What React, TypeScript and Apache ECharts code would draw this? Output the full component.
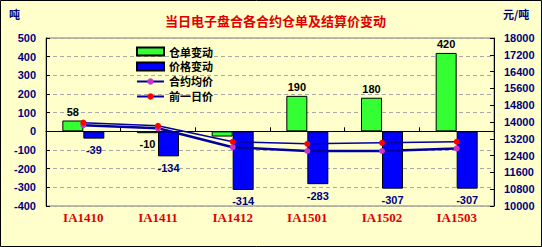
import React, { useEffect, useRef } from "react";
import * as echarts from "echarts";

const categories = ["IA1410", "IA1411", "IA1412", "IA1501", "IA1502", "IA1503"];
const warrantChange = [58, -10, -28, 190, 180, 420];
const priceChange = [-39, -134, -314, -283, -307, -307];
const avgPrice = [13850, 13700, 12800, 12620, 12620, 12740];
const prevPrice = [13970, 13820, 13060, 12960, 13010, 13060];
const hiddenLabelIndex = [2];

const titleText = "当日电子盘合各合约仓单及结算价变动";
const leftUnit = "吨";
const rightUnit = "元/吨";

const NUM_FONT = "'Liberation Sans', Arial, sans-serif";
const CJK_FONT = "'Noto Sans CJK SC', sans-serif";
const NAVY = "#000080";

export default function App() {
  const ref = useRef<HTMLDivElement>(null);
  useEffect(() => {
    if (!ref.current) return;
    const chart = echarts.init(ref.current, undefined, { renderer: "svg" });
    chart.setOption({
      animation: false,
      backgroundColor: "#FFFFCC",
      title: {
        text: titleText,
        left: 160,
        top: 9,
        textStyle: { color: "#E00000", fontSize: 13, fontWeight: "bold", fontFamily: CJK_FONT },
      },
      graphic: [
        { type: "rect", shape: { x: 0.5, y: 0.5, width: 541, height: 246 }, style: { fill: "none", stroke: "#000", lineWidth: 1 } },
        { type: "text", left: 9, top: 8, style: { text: leftUnit, fill: NAVY, font: `bold 11px ${CJK_FONT}` } },
        { type: "text", left: 503, top: 8, style: { text: rightUnit, fill: NAVY, font: `bold 11px ${CJK_FONT}` } },
      ],
      legend: {
        orient: "vertical",
        left: 131,
        top: 41,
        itemGap: 4,
        itemWidth: 27,
        itemHeight: 8,
        textStyle: { color: "#000", fontSize: 11, fontWeight: "bold", fontFamily: CJK_FONT },
        data: [
          { name: "仓单变动", icon: "rect" },
          { name: "价格变动", icon: "rect" },
          { name: "合约均价" },
          { name: "前一日价" },
        ],
      },
      grid: {
        left: 46,
        right: 48,
        top: 38,
        bottom: 41,
        show: true,
        borderColor: "#7f7f60",
        borderWidth: 1,
        backgroundColor: "transparent",
      },
      xAxis: [
        {
          type: "category",
          data: categories,
          axisLine: { onZero: true, lineStyle: { color: "#000", width: 1 } },
          axisTick: { show: true, inside: true, length: 4, lineStyle: { color: "#000" } },
          axisLabel: { show: false },
        },
        {
          type: "category",
          data: categories,
          position: "bottom",
          axisLine: { show: false, onZero: false },
          axisTick: { show: false },
          axisLabel: {
            color: "#E00000",
            fontSize: 13,
            fontWeight: "bold",
            fontFamily: "'Liberation Serif', 'Times New Roman', serif",
            margin: 5,
          },
        },
      ],
      yAxis: [
        {
          type: "value",
          min: -400,
          max: 500,
          interval: 100,
          axisLine: { show: true, lineStyle: { color: "#000" } },
          axisTick: { show: true, inside: true, length: 4, lineStyle: { color: "#000" } },
          axisLabel: { color: NAVY, fontSize: 11, fontWeight: "bold", fontFamily: NUM_FONT, margin: 10, formatter: (v: number) => String(v) },
          splitLine: { show: true, lineStyle: { color: "#A8A8A8", type: [4, 3], width: 1 } },
        },
        {
          type: "value",
          min: 10000,
          max: 18000,
          interval: 800,
          position: "right",
          axisLine: { show: true, lineStyle: { color: "#000" } },
          axisTick: { show: true, inside: true, length: 4, lineStyle: { color: "#000" } },
          axisLabel: { color: NAVY, fontSize: 11, fontWeight: "bold", fontFamily: NUM_FONT, margin: 10, formatter: (v: number) => String(v) },
          splitLine: { show: false },
        },
      ],
      series: [
        {
          name: "仓单变动",
          type: "bar",
          data: warrantChange.map((v, i) =>
            hiddenLabelIndex.includes(i)
              ? { value: v, label: { show: false } }
              : v < 0
              ? { value: v, label: { position: "bottom", distance: 5 } }
              : v
          ),
          barWidth: 21,
          barGap: "0%",
          itemStyle: { color: "#33FF33", borderColor: "#000", borderWidth: 1 },
          label: {
            show: true,
            position: "top",
            distance: 3,
            color: "#000",
            fontSize: 11,
            fontWeight: "bold",
            fontFamily: NUM_FONT,
          },
        },
        {
          name: "价格变动",
          type: "bar",
          data: priceChange,
          barWidth: 21,
          barGap: "0%",
          itemStyle: { color: "#0000FF", borderColor: "#000", borderWidth: 1 },
          label: {
            show: true,
            position: "bottom",
            distance: 6,
            color: NAVY,
            fontSize: 11,
            fontWeight: "bold",
            fontFamily: NUM_FONT,
          },
        },
        {
          name: "合约均价",
          type: "line",
          yAxisIndex: 1,
          data: avgPrice,
          symbol: "circle",
          symbolSize: 6,
          itemStyle: { color: "#CC33CC" },
          lineStyle: { color: "#0000A0", width: 2.5 },
          z: 5,
        },
        {
          name: "前一日价",
          type: "line",
          yAxisIndex: 1,
          data: prevPrice,
          symbol: "circle",
          symbolSize: 6,
          itemStyle: { color: "#FF0000" },
          lineStyle: { color: "#0000A0", width: 1.5 },
          z: 6,
        },
      ],
    });
    return () => chart.dispose();
  }, []);
  return <div ref={ref} style={{ position: "fixed", left: 0, top: 0, width: 542, height: 247 }} />;
}
